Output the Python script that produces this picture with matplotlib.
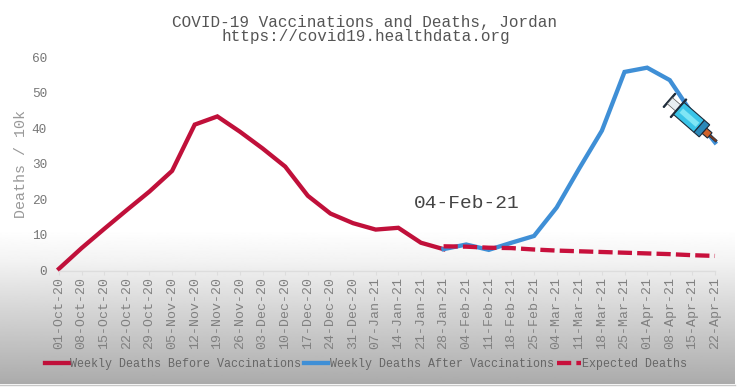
import numpy as np
import matplotlib
matplotlib.use("Agg")
import matplotlib.pyplot as plt
from matplotlib.patches import Polygon

dates = ["01-Oct-20", "08-Oct-20", "15-Oct-20", "22-Oct-20", "29-Oct-20", "05-Nov-20",
         "12-Nov-20", "19-Nov-20", "26-Nov-20", "03-Dec-20", "10-Dec-20", "17-Dec-20",
         "24-Dec-20", "31-Dec-20", "07-Jan-21", "14-Jan-21", "21-Jan-21", "28-Jan-21",
         "04-Feb-21", "11-Feb-21", "18-Feb-21", "25-Feb-21", "04-Mar-21", "11-Mar-21",
         "18-Mar-21", "25-Mar-21", "01-Apr-21", "08-Apr-21", "15-Apr-21", "22-Apr-21"]
before = [0.5, 6.3, 11.7, 17, 22.2, 28, 41, 43.3, 39, 34.3, 29.2, 21,
          16, 13.3, 11.5, 12, 7.8, 6]
after = [6, 7.3, 5.8, 7.8, 9.7, 17.7, 28.7, 39.3, 55.8, 57, 53.5, 44, 36]
expected = [6.8, 6.7, 6.4, 6.3, 5.9, 5.6, 5.4, 5.2, 5.0, 4.8, 4.6, 4.3, 4.1]
yticks = [0, 10, 20, 30, 40, 50, 60]

W, H = 740, 389
MONO = "Liberation Mono"
RED = "#c0103a"
BLUE = "#3f8fd6"

fig = plt.figure(figsize=(W / 100, H / 100), dpi=100, facecolor="white")

# grey fade behind the lower part of the slide
bg = fig.add_axes([0, 0, 1, 1], zorder=0)
bg.set_xlim(0, W)
bg.set_ylim(H, 0)
bg.axis("off")
fade = np.interp(np.arange(230, 385), [230, 262, 300, 340, 384], [1.0, 0.95, 0.86, 0.77, 0.67])
bg.imshow(fade[:, None], extent=(0, 735, 384, 230), cmap="gray", vmin=0, vmax=1, aspect="auto")
bg.plot([0, 735], [384.5, 384.5], color="#c8c8c8", lw=1)
bg.set_xlim(0, W)
bg.set_ylim(H, 0)

ax = fig.add_axes([59 / W, 1 - 270.5 / H, 656 / W, 213.5 / H], zorder=1)
ax.patch.set_alpha(0)
x = np.arange(len(dates))
start = len(before) - 1

ax.plot(x[:len(before)], before, color=RED, lw=3.1, solid_joinstyle="miter",
        label="Weekly Deaths Before Vaccinations", clip_on=False)
ax.plot(x[start:], after, color=BLUE, lw=3.1, solid_joinstyle="miter",
        label="Weekly Deaths After Vaccinations", clip_on=False)
ax.plot(x[start:], expected, color="#c8103c", lw=3.1, dashes=(3.3, 1.2),
        label="Expected Deaths", clip_on=False)

ax.set_xlim(0, len(dates) - 1)
ax.set_ylim(0, 60)
ax.set_xticks(x)
ax.set_xticklabels(dates, rotation=90, family=MONO, fontsize=9.5, color="#808080")
ax.set_yticks(yticks)
ax.set_yticklabels(yticks, family=MONO, fontsize=9.2, color="#777777")
ax.tick_params(axis="x", length=3, width=0.8, color="#dddddd", pad=2)
ax.tick_params(axis="y", length=0, pad=8.6)
for side in ["top", "right", "left"]:
    ax.spines[side].set_visible(False)
ax.spines["bottom"].set_color("#dddddd")
ax.spines["bottom"].set_linewidth(1)

fig.text(21 / W, 1 - 164 / H, "Deaths / 10k", rotation=90, family=MONO, fontsize=10.8,
         color="#999999", ha="center", va="center")
fig.text(365 / W, 1 - 22 / H, "COVID-19 Vaccinations and Deaths, Jordan", family=MONO,
         fontsize=11.55, color="#555555", ha="center", va="center")
fig.text(366 / W, 1 - 37 / H, "https://covid19.healthdata.org", family=MONO,
         fontsize=11.55, color="#555555", ha="center", va="center")
fig.text(467 / W, 1 - 204 / H, "04-Feb-21", family=MONO, fontsize=14,
         color="#444444", ha="center", va="center")

fig.legend(loc="center", bbox_to_anchor=(366 / W, 1 - 364 / H), ncols=3, frameon=False,
           prop={"family": MONO, "size": 8.4}, labelcolor="#666666", handlelength=2.05,
           handletextpad=0.1, columnspacing=0.3, borderpad=0, borderaxespad=0)

# syringe sits on top of the blue line, built along its own axis then rotated
over = fig.add_axes([0, 0, 1, 1], zorder=3)
over.set_xlim(0, W)
over.set_ylim(H, 0)
over.axis("off")
angle = np.deg2rad(41)
origin = np.array([669.0, 100.0])


def part(u0, u1, half, face, edge="#1d2b3a", lw=0.8):
    pts = np.array([[u0, -half], [u1, -half], [u1, half], [u0, half]], dtype=float)
    rot = np.array([[np.cos(angle), -np.sin(angle)], [np.sin(angle), np.cos(angle)]])
    over.add_patch(Polygon(pts @ rot.T + origin, closed=True, facecolor=face,
                           edgecolor=edge, linewidth=lw))


part(0, 1.2, 9, "#1d2b3a")
part(1.2, 13, 4, "#e8eef2", edge="#555555", lw=0.5)
part(12, 13.2, 12, "#1d2b3a")
part(13, 40, 8, "#39c4e8")
part(16, 38, 3, "#7fe6f5", edge="#39c4e8", lw=0.3)
part(40, 47, 8, "#2b88b8")
part(47, 54, 3.5, "#d0622a")
part(54, 63, 1.2, "#7a3a1e", lw=0.4)

fig.savefig("out.png", dpi=100)
